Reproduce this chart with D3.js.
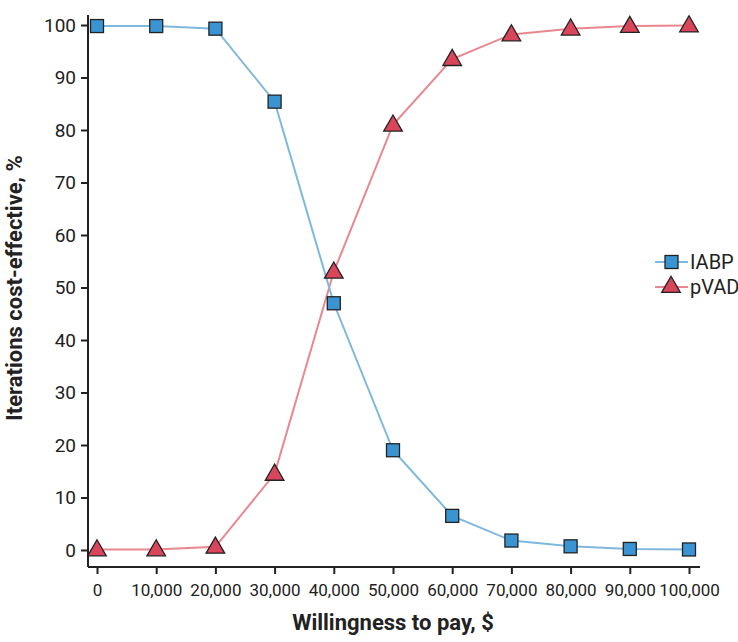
<!DOCTYPE html><html><head><meta charset="utf-8"><script src="https://cdn.jsdelivr.net/npm/d3@7"></script>
<style>body{margin:0;background:#fff}text{font-family:"Liberation Sans Narrow","Roboto",sans-serif}</style></head><body>
<svg id="c" width="738" height="642"></svg>
<script>
const wtp=[0,10000,20000,30000,40000,50000,60000,70000,80000,90000,100000];
const iabp=[99.8,99.8,99.3,85.4,47,19,6.5,1.8,0.7,0.2,0.1];
const pvad=[0.1,0.1,0.6,14.5,53,81,93.5,98.2,99.3,99.8,99.9];
const yTicks=[0,10,20,30,40,50,60,70,80,90,100];
const svg=d3.select("#c");
const x=d3.scaleLinear().domain([0,100000]).range([97,689]);
const y=d3.scaleLinear().domain([0,100]).range([550,25]);
const fmt=d3.format(",");
const xa=svg.append("g").attr("transform","translate(0,567)").call(d3.axisBottom(x).tickValues(wtp).tickFormat(fmt).tickSize(7).tickSizeOuter(0));
xa.select(".domain").attr("d","M88,0H700");
const ya=svg.append("g").attr("transform","translate(88,0)").call(d3.axisLeft(y).tickValues(yTicks).tickSize(7).tickSizeOuter(0));
ya.select(".domain").attr("d","M0,15V567");
svg.selectAll(".domain,.tick line").attr("stroke","#222").attr("stroke-width",2);
xa.selectAll("text").attr("font-size",17).attr("fill","#222").attr("dy","1.1em");
ya.selectAll("text").attr("font-size",19).attr("fill","#222").attr("dx","-2");
svg.append("text").attr("x",393).attr("y",630).attr("text-anchor","middle").attr("font-size",22).attr("font-weight","bold").attr("fill","#222").text("Willingness to pay, $");
svg.append("text").attr("transform","translate(22,288) rotate(-90)").attr("text-anchor","middle").attr("font-size",22).attr("font-weight","bold").attr("fill","#222").text("Iterations cost-effective, %");
const line=d3.line().x((d,i)=>x(wtp[i])).y(d=>y(d));
const tri=d3.symbol().type(d3.symbolTriangle).size(150);
svg.append("path").attr("d",line(pvad)).attr("fill","none").attr("stroke","#e8878f").attr("stroke-width",2);
svg.append("path").attr("d",line(iabp)).attr("fill","none").attr("stroke","#7fb8de").attr("stroke-width",2);
svg.selectAll(".t").data(pvad).enter().append("path").attr("d",tri).attr("transform",(d,i)=>`translate(${x(wtp[i])},${y(d)+1})`).attr("fill","#d9455a").attr("stroke","#222").attr("stroke-width",1.3);
svg.selectAll(".s").data(iabp).enter().append("rect").attr("x",(d,i)=>x(wtp[i])-6.5).attr("y",d=>y(d)-6.5).attr("width",13).attr("height",13).attr("fill","#3b94d2").attr("stroke","#222").attr("stroke-width",1.3);
const lg=[{n:"IABP",c:"#7fb8de",s:"sq"},{n:"pVAD",c:"#e8878f",s:"tr"}];
lg.forEach((l,i)=>{const yy=262+i*25;
svg.append("line").attr("x1",655).attr("x2",688).attr("y1",yy).attr("y2",yy).attr("stroke",l.c).attr("stroke-width",2);
if(l.s=="sq")svg.append("rect").attr("x",665).attr("y",yy-6.5).attr("width",13).attr("height",13).attr("fill","#3b94d2").attr("stroke","#222").attr("stroke-width",1.3);
else svg.append("path").attr("d",tri).attr("transform",`translate(671,${yy})`).attr("fill","#d9455a").attr("stroke","#222").attr("stroke-width",1.3);
svg.append("text").attr("x",690).attr("y",yy+7).attr("font-size",20).attr("fill","#222").text(l.n);});
</script></body></html>
